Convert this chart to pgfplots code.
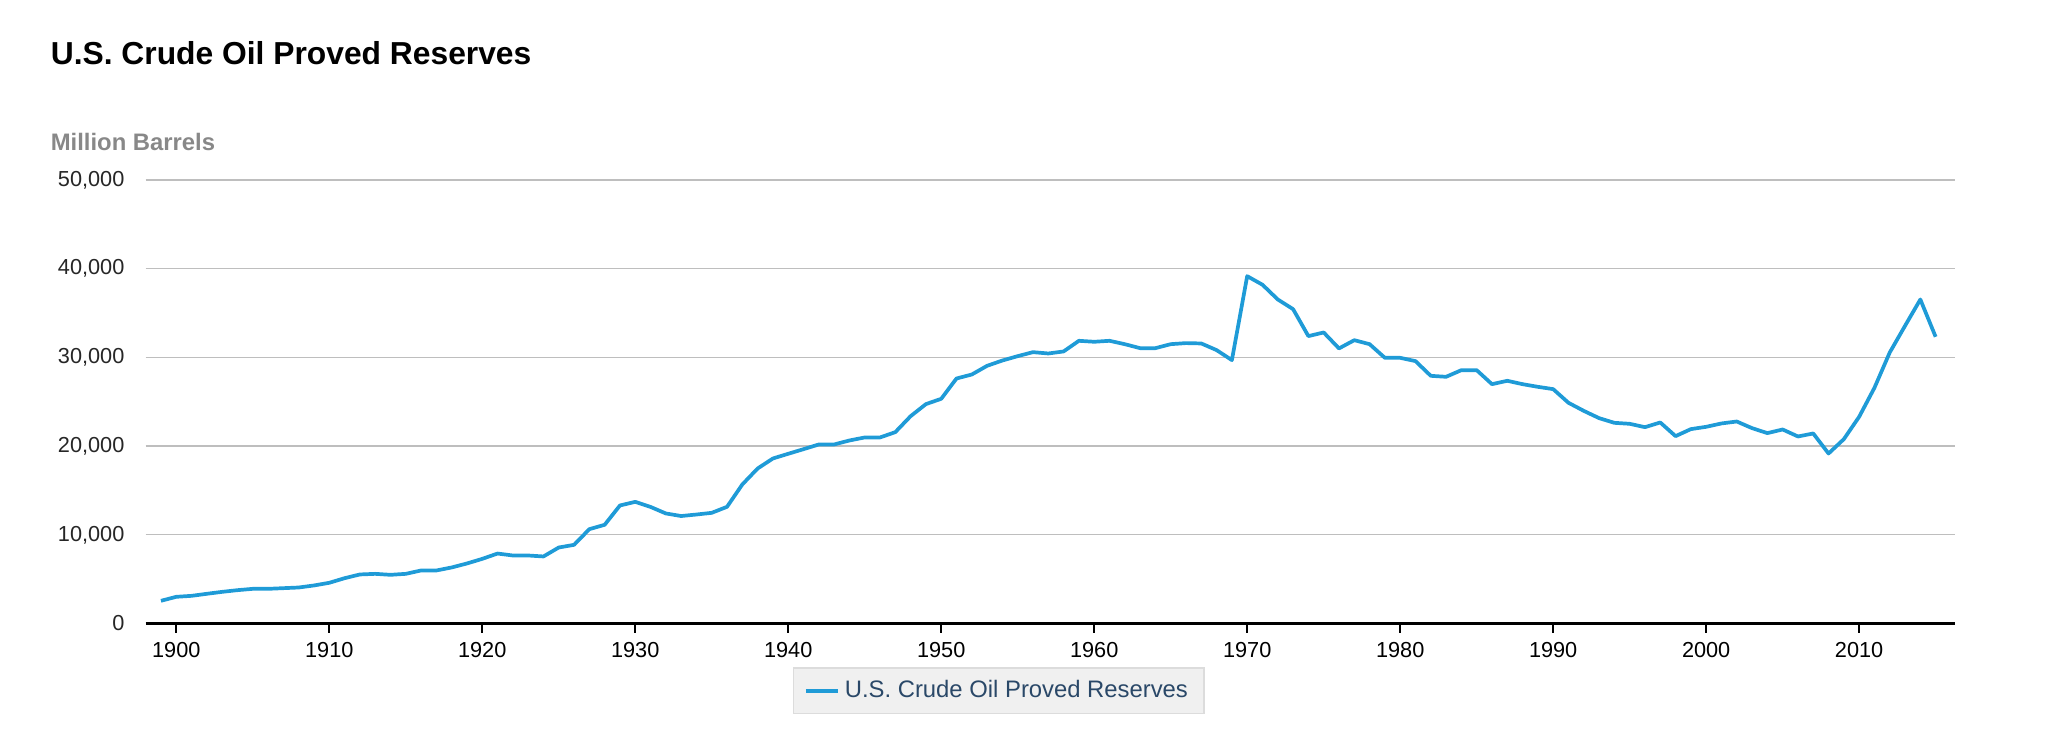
\documentclass[border=0pt]{standalone}
\usepackage{fontspec}
\setmainfont{Liberation Sans}
\usepackage{pgfplots}
\pgfplotsset{compat=1.18}

\definecolor{oilblue}{RGB}{31,155,215}
\definecolor{gridgray}{RGB}{190,190,190}
\definecolor{legfill}{RGB}{240,240,240}
\definecolor{legdraw}{RGB}{220,220,220}
\definecolor{legtext}{RGB}{42,72,104}
\definecolor{unitgray}{RGB}{136,136,136}

\begin{document}
\begin{tikzpicture}
\path[use as bounding box] (0,0) rectangle (780pt,-275pt);

% title and unit label
\node[anchor=base west, inner sep=0pt, font=\fontsize{12}{14}\selectfont\bfseries] at (19pt,-24.5pt) {U.S. Crude Oil Proved Reserves};
\node[anchor=base west, inner sep=0pt, text=unitgray, font=\fontsize{9}{11}\selectfont\bfseries] at (19pt,-57pt) {Million Barrels};

\begin{axis}[
  at={(55pt,-235.4pt)}, anchor=south west,
  scale only axis,
  width=683pt, height=167.4pt,
  xmin=1898, xmax=2016.25,
  ymin=0, ymax=50000,
  xtick={1900,1910,...,2010},
  ytick={0,10000,...,50000},
  scaled y ticks=false,
  axis x line*=bottom,
  axis y line*=left,
  y axis line style={draw=none},
  x axis line style={black, line width=0.8pt},
  ymajorgrids,
  major grid style={gridgray, line width=0.5pt},
  xtick style={black, line width=0.6pt},
  major tick length=3.5pt,
  tick align=outside,
  ytick style={draw=none},
  /pgf/number format/assume math mode=true,
  /pgf/number format/1000 sep={},
  yticklabel style={/pgf/number format/1000 sep={,}, text=black!85, xshift=-1pt},
  ticklabel style={font=\fontsize{8.2}{10}\selectfont},
  legend style={
    at={(0.4715,0)}, anchor=north, yshift=-16.6pt,
    fill=legfill, draw=legdraw, line width=0.6pt,
    font=\fontsize{9}{11}\selectfont, text=legtext,
    inner xsep=4pt, inner ysep=2.5pt,
  },
  legend image code/.code={\draw[#1] (0pt,0pt) -- (12pt,0pt);},
]
\addplot[oilblue, line width=1.4pt, line join=round] coordinates {
(1899,2560) (1900,3010) (1901,3120) (1902,3350) (1903,3570) (1904,3760)
(1905,3910) (1906,3910) (1907,3985) (1908,4060) (1909,4290) (1910,4590)
(1911,5110) (1912,5530) (1913,5600) (1914,5490) (1915,5600) (1916,5980)
(1917,5980) (1918,6320) (1919,6770) (1920,7290) (1921,7890) (1922,7670)
(1923,7670) (1924,7560) (1925,8570) (1926,8870) (1927,10640) (1928,11130)
(1929,13310) (1930,13720) (1931,13150) (1932,12410) (1933,12120) (1934,12290)
(1935,12480) (1936,13160) (1937,15680) (1938,17480) (1939,18610) (1940,19140)
(1941,19660) (1942,20190) (1943,20190) (1944,20640) (1945,20980) (1946,20980)
(1947,21580) (1948,23380) (1949,24740) (1950,25340) (1951,27630) (1952,28080)
(1953,29060) (1954,29660) (1955,30150) (1956,30600) (1957,30450) (1958,30680)
(1959,31880) (1960,31770) (1961,31880) (1962,31500) (1963,31050) (1964,31050)
(1965,31500) (1966,31620) (1967,31580) (1968,30830) (1969,29700) (1970,39170)
(1971,38200) (1972,36540) (1973,35450) (1974,32410) (1975,32820) (1976,31020)
(1977,31950) (1978,31500) (1979,29960) (1980,29960) (1981,29590) (1982,27930)
(1983,27820) (1984,28570) (1985,28570) (1986,26990) (1987,27370) (1988,26990)
(1989,26690) (1990,26430) (1991,24890) (1992,23980) (1993,23160) (1994,22630)
(1995,22520) (1996,22140) (1997,22670) (1998,21130) (1999,21920) (2000,22180)
(2001,22560) (2002,22780) (2003,22030) (2004,21470) (2005,21880) (2006,21090)
(2007,21430) (2008,19170) (2009,20790) (2010,23310) (2011,26580) (2012,30560)
(2013,33570) (2014,36540) (2015,32330)
};
\addlegendentry{U.S. Crude Oil Proved Reserves}
\end{axis}
\end{tikzpicture}
\end{document}
